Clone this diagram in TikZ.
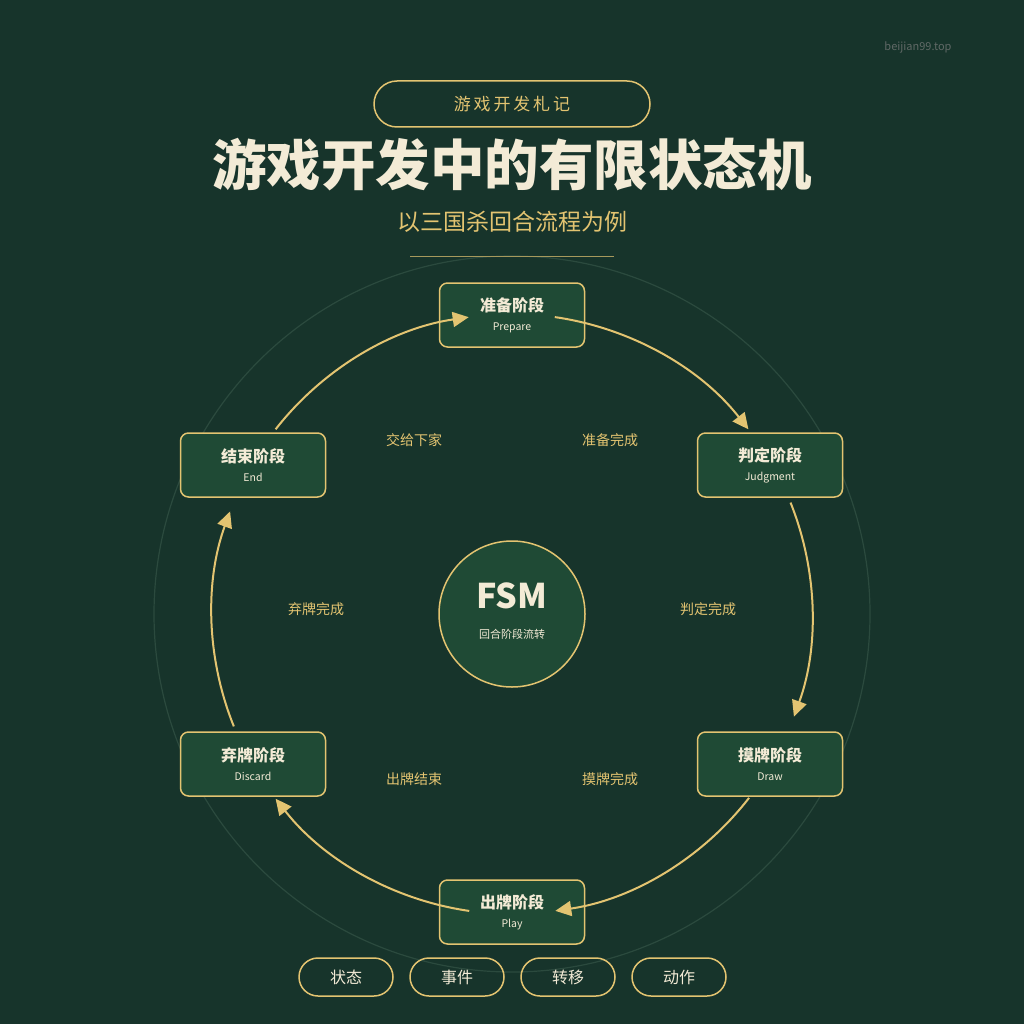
\documentclass[tikz,border=0pt]{standalone}
\usepackage{fontspec}
\setmainfont{Noto Sans CJK SC}
\usetikzlibrary{arrows.meta}
\definecolor{bg}{HTML}{17342B}
\definecolor{nodefill}{HTML}{1F4A35}
\definecolor{gold}{HTML}{E3C471}
\definecolor{cream}{HTML}{F3EBD6}
\definecolor{faint}{HTML}{2B4A3E}
\begin{document}
\begin{tikzpicture}[x=1pt,y=1pt,
 st/.style={draw=gold,line width=1.5pt,fill=nodefill,rounded corners=8pt,minimum width=145pt,minimum height=64pt,align=center,inner sep=0pt},
 arr/.style={draw=gold,line width=2pt,-{Triangle[length=16pt,width=15pt]}},
 ev/.style={text=gold,font=\fontsize{14}{16}\selectfont},
 pill/.style={draw=gold,line width=1.5pt,rounded corners=19pt,minimum width=94pt,minimum height=38pt,text=cream,font=\fontsize{16}{18}\selectfont}]
\fill[bg] (0,0) rectangle (1024,-1024);
\useasboundingbox (0,0) rectangle (1024,-1024);
\coordinate (C) at (512,-614);
\draw[faint,line width=1.2pt] (C) circle (358pt);
\node[text=gray!70!bg,font=\fontsize{11}{13}\selectfont] (site) at (918,-47) {beijian99.top};
\node[draw=gold,line width=1.5pt,rounded corners=23pt,minimum width=276pt,minimum height=46pt,text=gold,font=\fontsize{17}{19}\selectfont] (tag) at (512,-104) {游\,戏\,开\,发\,札\,记};
\node[text=cream,font=\fontsize{54.5}{58}\selectfont\bfseries] (title) at (512,-165) {游戏开发中的有限状态机};
\node[text=gold,font=\fontsize{23}{26}\selectfont] (sub) at (512,-222) {以三国杀回合流程为例};
\draw[gold!70!bg,line width=1pt] (410,-256) -- (614,-256);
\newcommand{\stt}[2]{{\color{cream}\fontsize{16}{20}\selectfont\bfseries #1}\\[7pt]{\color{cream}\fontsize{10.5}{13}\selectfont #2}}
\node[st] (prep) at (512,-315) {\stt{准备阶段}{Prepare}};
\node[st] (judg) at (770,-465) {\stt{判定阶段}{Judgment}};
\node[st] (draw) at (770,-764) {\stt{摸牌阶段}{Draw}};
\node[st] (play) at (512,-912) {\stt{出牌阶段}{Play}};
\node[st] (disc) at (253,-764) {\stt{弃牌阶段}{Discard}};
\node[st] (end) at (253,-465) {\stt{结束阶段}{End}};
% arcs
\draw[arr] ([shift={(81.8:300pt)}]C) arc (81.8:38:300pt);
\draw[arr] ([shift={(21.8:300pt)}]C) arc (21.8:-20:300pt);
\draw[arr] ([shift={(-37.8:300pt)}]C) arc (-37.8:-81.7:300pt);
\draw[arr] ([shift={(-98.2:300pt)}]C) arc (-98.2:-142:300pt);
\draw[arr] ([shift={(-158:300pt)}]C) arc (-158:-200:300pt);
\draw[arr] ([shift={(142:300pt)}]C) arc (142:98.3:300pt);
\node[ev] at (414,-440) {交给下家};
\node[ev] at (610,-440) {准备完成};
\node[ev] at (708,-609) {判定完成};
\node[ev] at (610,-779) {摸牌完成};
\node[ev] at (414,-779) {出牌结束};
\node[ev] at (316,-609) {弃牌完成};
\node[circle,draw=gold,line width=1.5pt,fill=nodefill,minimum size=146pt] (fsm) at (C) {};
\node[text=cream,font=\fontsize{34}{38}\selectfont\bfseries] at (512,-596) {FSM};
\node[text=cream,font=\fontsize{11}{13}\selectfont] at (512,-634) {回合阶段流转};
\node[pill] at (346,-977) {状态};
\node[pill] at (457,-977) {事件};
\node[pill] at (568,-977) {转移};
\node[pill] at (679,-977) {动作};
\end{tikzpicture}
\end{document}
